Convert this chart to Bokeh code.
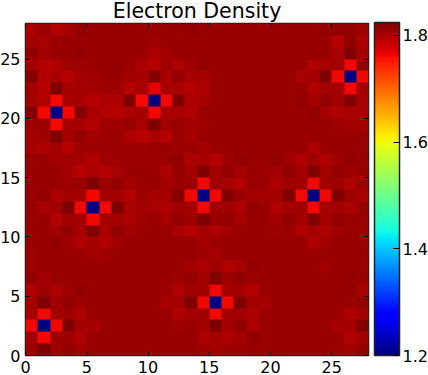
from bokeh.plotting import figure
from bokeh.models import LinearColorMapper, ColorBar, FixedTicker, LinearAxis, Range1d
from bokeh.embed import file_html
from bokeh.resources import INLINE
import numpy as np

title_text = "Electron Density"
x_ticks = [0, 5, 10, 15, 20, 25]
y_ticks = [0, 5, 10, 15, 20, 25]
bar_ticks = [1.2, 1.4, 1.6, 1.8]
v_min = 1.2
v_max = 1.824

# rows from the top of the picture (y = 27) down to y = 0
density_rows = [
 [1.798,1.809,1.796,1.801,1.812,1.809,1.809,1.809,1.809,1.809,1.809,1.809,1.809,1.812,1.809,1.809,1.809,1.809,1.809,1.809,1.809,1.809,1.809,1.809,1.812,1.812,1.812,1.806],
 [1.804,1.801,1.809,1.811,1.811,1.809,1.809,1.809,1.809,1.809,1.806,1.809,1.809,1.809,1.809,1.809,1.809,1.809,1.809,1.809,1.809,1.809,1.809,1.809,1.809,1.793,1.812,1.798],
 [1.814,1.804,1.809,1.809,1.812,1.809,1.809,1.809,1.809,1.809,1.798,1.804,1.809,1.809,1.809,1.809,1.809,1.809,1.809,1.809,1.809,1.809,1.809,1.809,1.809,1.801,1.822,1.804],
 [1.804,1.793,1.796,1.806,1.806,1.808,1.809,1.812,1.809,1.798,1.793,1.806,1.796,1.806,1.812,1.809,1.809,1.809,1.809,1.809,1.809,1.809,1.809,1.796,1.801,1.804,1.763,1.812],
 [1.817,1.796,1.801,1.793,1.804,1.806,1.808,1.808,1.804,1.801,1.820,1.801,1.812,1.801,1.801,1.809,1.809,1.809,1.809,1.809,1.809,1.809,1.801,1.804,1.822,1.763,1.200,1.763],
 [1.804,1.793,1.822,1.801,1.804,1.804,1.806,1.806,1.793,1.801,1.766,1.801,1.801,1.793,1.798,1.809,1.809,1.809,1.809,1.809,1.809,1.809,1.809,1.796,1.804,1.804,1.763,1.804],
 [1.804,1.796,1.763,1.801,1.801,1.793,1.798,1.798,1.822,1.763,1.200,1.763,1.822,1.798,1.801,1.809,1.809,1.809,1.809,1.809,1.809,1.809,1.812,1.804,1.812,1.804,1.822,1.801],
 [1.820,1.763,1.200,1.763,1.820,1.801,1.796,1.793,1.801,1.801,1.763,1.801,1.801,1.796,1.809,1.809,1.809,1.809,1.809,1.809,1.809,1.809,1.809,1.812,1.804,1.796,1.801,1.801],
 [1.806,1.806,1.763,1.801,1.801,1.796,1.806,1.806,1.809,1.801,1.822,1.804,1.809,1.804,1.806,1.809,1.809,1.809,1.809,1.809,1.809,1.809,1.809,1.809,1.809,1.806,1.804,1.804],
 [1.804,1.806,1.822,1.804,1.812,1.804,1.806,1.809,1.798,1.790,1.801,1.793,1.809,1.804,1.809,1.809,1.809,1.809,1.809,1.809,1.809,1.809,1.809,1.809,1.809,1.809,1.809,1.809],
 [1.801,1.798,1.804,1.793,1.806,1.806,1.806,1.806,1.806,1.806,1.809,1.809,1.806,1.809,1.801,1.809,1.809,1.809,1.809,1.809,1.809,1.809,1.809,1.798,1.809,1.809,1.809,1.809],
 [1.809,1.809,1.804,1.804,1.804,1.796,1.806,1.806,1.806,1.806,1.806,1.809,1.812,1.798,1.801,1.793,1.806,1.812,1.809,1.809,1.812,1.806,1.796,1.806,1.796,1.806,1.814,1.809],
 [1.809,1.809,1.809,1.804,1.793,1.801,1.793,1.801,1.809,1.809,1.809,1.798,1.812,1.804,1.822,1.804,1.814,1.804,1.809,1.806,1.804,1.812,1.804,1.825,1.804,1.812,1.806,1.809],
 [1.809,1.809,1.809,1.806,1.809,1.822,1.806,1.812,1.804,1.809,1.809,1.804,1.809,1.809,1.763,1.806,1.804,1.796,1.809,1.809,1.798,1.806,1.806,1.763,1.804,1.806,1.798,1.806],
 [1.809,1.812,1.798,1.804,1.801,1.763,1.804,1.804,1.793,1.806,1.801,1.804,1.820,1.763,1.200,1.763,1.822,1.809,1.804,1.804,1.804,1.825,1.763,1.200,1.763,1.825,1.806,1.801],
 [1.809,1.801,1.806,1.822,1.763,1.200,1.763,1.825,1.801,1.804,1.801,1.798,1.806,1.804,1.763,1.806,1.806,1.798,1.812,1.809,1.796,1.804,1.806,1.763,1.804,1.804,1.798,1.809],
 [1.809,1.809,1.796,1.806,1.804,1.763,1.804,1.804,1.798,1.806,1.809,1.804,1.812,1.806,1.822,1.809,1.814,1.804,1.809,1.809,1.804,1.814,1.804,1.825,1.804,1.814,1.809,1.809],
 [1.809,1.809,1.806,1.812,1.801,1.822,1.801,1.814,1.804,1.809,1.809,1.809,1.801,1.793,1.804,1.796,1.804,1.809,1.809,1.809,1.806,1.809,1.796,1.804,1.796,1.806,1.809,1.806],
 [1.809,1.809,1.812,1.806,1.796,1.804,1.796,1.804,1.809,1.809,1.809,1.809,1.809,1.809,1.801,1.809,1.809,1.809,1.809,1.809,1.809,1.809,1.809,1.798,1.804,1.809,1.809,1.809],
 [1.806,1.809,1.809,1.809,1.809,1.804,1.806,1.809,1.809,1.809,1.809,1.809,1.809,1.809,1.806,1.801,1.809,1.809,1.809,1.809,1.809,1.809,1.809,1.809,1.809,1.809,1.809,1.809],
 [1.806,1.809,1.809,1.809,1.809,1.809,1.809,1.809,1.809,1.809,1.809,1.809,1.809,1.804,1.798,1.806,1.796,1.801,1.814,1.809,1.809,1.809,1.809,1.809,1.804,1.809,1.809,1.809],
 [1.812,1.804,1.809,1.809,1.809,1.809,1.809,1.809,1.809,1.809,1.809,1.809,1.806,1.812,1.804,1.822,1.806,1.812,1.806,1.809,1.809,1.809,1.809,1.809,1.809,1.809,1.812,1.809],
 [1.796,1.806,1.798,1.806,1.812,1.809,1.809,1.809,1.809,1.809,1.809,1.806,1.796,1.806,1.806,1.763,1.804,1.801,1.796,1.809,1.809,1.809,1.809,1.809,1.809,1.809,1.812,1.801],
 [1.804,1.822,1.806,1.812,1.806,1.809,1.809,1.809,1.809,1.809,1.809,1.801,1.804,1.822,1.763,1.200,1.763,1.822,1.804,1.801,1.809,1.809,1.809,1.809,1.809,1.809,1.809,1.812],
 [1.801,1.763,1.804,1.806,1.798,1.809,1.809,1.809,1.809,1.809,1.809,1.809,1.796,1.804,1.806,1.763,1.804,1.806,1.798,1.809,1.809,1.809,1.809,1.809,1.809,1.809,1.796,1.804],
 [1.763,1.200,1.763,1.825,1.804,1.801,1.809,1.809,1.809,1.809,1.809,1.809,1.806,1.809,1.804,1.822,1.804,1.812,1.801,1.809,1.809,1.809,1.809,1.809,1.809,1.801,1.804,1.820],
 [1.804,1.763,1.806,1.806,1.798,1.809,1.809,1.809,1.809,1.809,1.809,1.809,1.809,1.809,1.798,1.804,1.798,1.804,1.812,1.809,1.809,1.809,1.809,1.809,1.809,1.809,1.796,1.804],
 [1.809,1.822,1.806,1.812,1.804,1.809,1.809,1.809,1.809,1.809,1.809,1.809,1.809,1.809,1.806,1.804,1.806,1.806,1.809,1.809,1.809,1.809,1.809,1.809,1.809,1.809,1.804,1.814],
]


def jet(n=256):
    out = []
    for i in range(n):
        t = i / (n - 1)
        r = np.interp(t, [0, 0.35, 0.66, 0.89, 1], [0, 0, 1, 1, 0.5])
        g = np.interp(t, [0, 0.125, 0.375, 0.64, 0.91, 1], [0, 0, 1, 1, 0, 0])
        b = np.interp(t, [0, 0.11, 0.34, 0.65, 1], [0.5, 1, 1, 0, 0])
        out.append("#%02x%02x%02x" % (round(r * 255), round(g * 255), round(b * 255)))
    return out


grid = np.array(density_rows[::-1], dtype=float)
n_rows, n_cols = grid.shape
# enlarge each cell so that the browser's image scaling leaves its edges crisp
fine_grid = np.repeat(np.repeat(grid, 12, axis=0), 12, axis=1)

FONT = "DejaVu Sans"
mapper = LinearColorMapper(palette=jet(), low=v_min, high=v_max)

p = figure(
    width=428, height=375, output_backend="svg", toolbar_location=None,
    x_range=Range1d(0, n_cols), y_range=Range1d(0, n_rows),
    frame_width=343, frame_height=332, title=title_text,
    min_border_left=26, min_border_top=0, min_border_bottom=0, min_border_right=0,
    margin=(-4, 0, 0, -3),
)
p.title.align = "center"
p.title.text_font = FONT
p.title.text_font_size = "20.5px"
p.title.text_font_style = "normal"
p.title.text_color = "black"
p.title.standoff = 1
p.title.offset = 0
p.grid.visible = False
p.outline_line_color = "#222222"
p.outline_line_width = 1.5
p.background_fill_color = None

p.image(image=[fine_grid], x=0, y=0, dw=n_cols, dh=n_rows, color_mapper=mapper)


def style(ax, ticks, labels=True):
    ax.ticker = FixedTicker(ticks=ticks)
    ax.major_tick_in = 4
    ax.major_tick_out = 0
    ax.minor_tick_line_color = None
    ax.axis_line_color = None
    ax.major_tick_line_color = "black"
    ax.major_label_text_font = FONT
    ax.major_label_text_color = "black"
    if labels:
        ax.major_label_text_font_size = "16px"
        ax.major_label_standoff = 5
    else:
        ax.major_label_text_font_size = "1px"
        ax.major_label_standoff = 0
        ax.major_label_overrides = {t: "" for t in ticks}


style(p.xaxis[0], x_ticks)
style(p.yaxis[0], y_ticks)
p.yaxis[0].major_label_orientation = "horizontal"

top = LinearAxis()
style(top, x_ticks, labels=False)
p.add_layout(top, "above")
right = LinearAxis()
style(right, y_ticks, labels=False)
p.add_layout(right, "right")

bar = ColorBar(
    color_mapper=mapper, ticker=FixedTicker(ticks=bar_ticks),
    width=25, height=333, padding=0, margin=0, location=(6, 0),
    major_tick_in=6, major_tick_out=0, major_tick_line_color="black",
    minor_tick_line_color=None, bar_line_color="#222222", bar_line_width=1.5,
    major_label_text_font=FONT, major_label_text_font_size="16px",
    major_label_text_color="black", label_standoff=3,
    background_fill_color=None, border_line_color=None,
)
p.add_layout(bar, "right")

open("out.html", "w").write(file_html(p, INLINE))
